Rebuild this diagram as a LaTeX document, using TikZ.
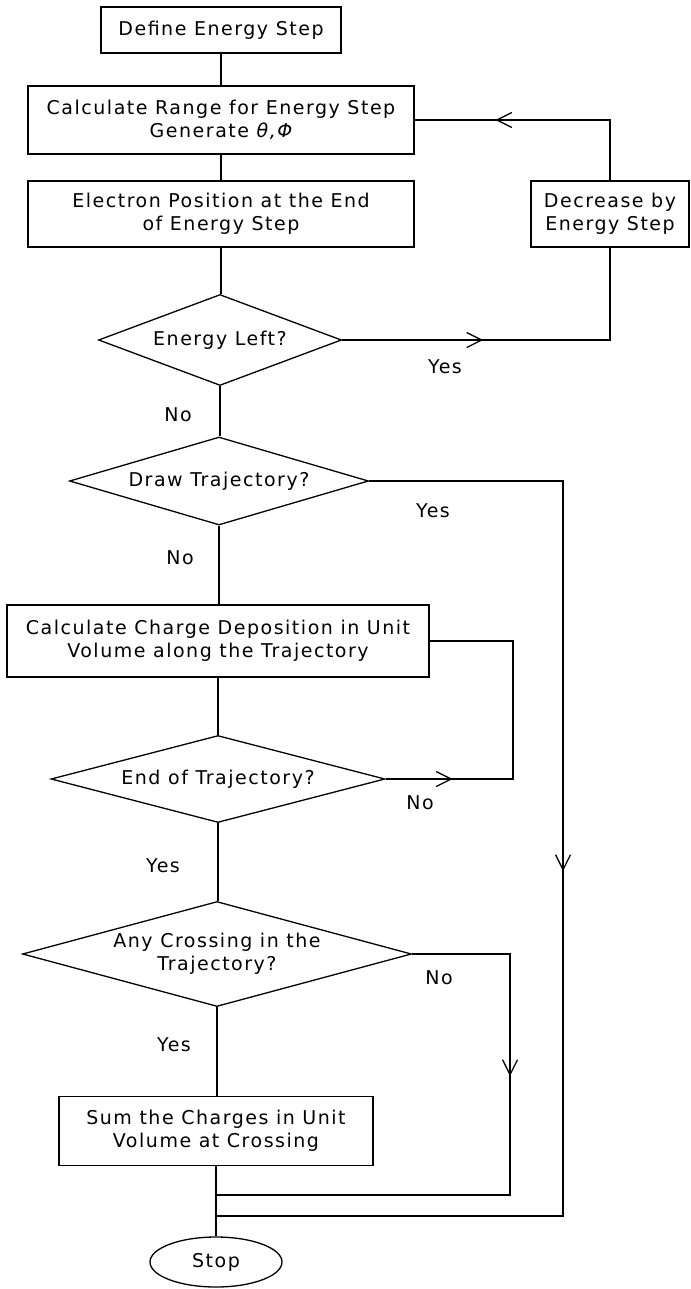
\documentclass[tikz,border=0pt]{standalone}
\usepackage{fontspec}
\setmainfont{DejaVu Sans}[LetterSpace=8]
\usetikzlibrary{shapes.geometric,arrows.meta,decorations.markings}
\tikzset{
  every node/.style={font=\fontsize{19}{23}\selectfont},
  conn/.style={line width=1.3pt},
  box/.style={draw, line width=1.3pt, rectangle, align=center, inner sep=0pt},
  dia/.style={draw, line width=1.3pt, diamond, align=center, inner sep=0pt},
  term/.style={draw, line width=1.3pt, ellipse, inner sep=0pt},
  lbl/.style={inner sep=0pt},
  arrowat/.style={postaction={decorate}, decoration={markings,
      mark=at position #1 with {\arrow{Straight Barb[length=15pt,width=15pt,line width=1.3pt]}}}}
}
\begin{document}
\begin{tikzpicture}[x=1pt,y=-1pt]
\useasboundingbox (0,0) rectangle (690,1289);
% nodes
\node[box, minimum width=240pt, minimum height=46pt] (b1) at (221,30) {Define Energy Step};
\node[box, minimum width=386pt, minimum height=68pt] (b2) at (221,120) {Calculate Range for Energy Step\\Generate {\itshape θ,Φ}};
\node[box, minimum width=386pt, minimum height=66pt] (b3) at (221,214) {Electron Position at the End\\of Energy Step};
\node[box, minimum width=158pt, minimum height=66pt] (dec) at (610,214) {Decrease by\\Energy Step};
\node[dia, minimum width=243pt, minimum height=91pt, aspect=2.67] (d1) at (220,340) {Energy Left?};
\node[dia, minimum width=299pt, minimum height=88pt, aspect=3.4] (d2) at (219,481) {Draw Trajectory?};
\node[box, minimum width=422pt, minimum height=72pt] (b4) at (218,641) {Calculate Charge Deposition in Unit\\Volume along the Trajectory};
\node[dia, minimum width=334pt, minimum height=87pt, aspect=3.84] (d3) at (218,779) {End of Trajectory?};
\node[dia, minimum width=389pt, minimum height=105pt, aspect=3.7] (d4) at (217,954) {Any Crossing in the\\Trajectory?};
\node[box, minimum width=314pt, minimum height=69pt] (b5) at (216,1131) {Sum the Charges in Unit\\Volume at Crossing};
\node[term, minimum width=132pt, minimum height=50pt] (stop) at (216,1262) {Stop};
% helper coordinates
\coordinate (j1) at (216,1195);
\coordinate (j2) at (216,1216);
\coordinate (c2) at (563,1216);
\coordinate (c3) at (513,641);
\coordinate (c4) at (510,1195);
% labels
\node[lbl] (y1) at (445,367) {Yes};
\node[lbl] (n1) at (178,415) {No};
\node[lbl] (y2) at (433,511) {Yes};
\node[lbl] (n2) at (180,558) {No};
\node[lbl] (n3) at (420,803) {No};
\node[lbl] (y3) at (163,866) {Yes};
\node[lbl] (n4) at (439,978) {No};
\node[lbl] (y4) at (174,1045) {Yes};
% connectors
\draw[conn] (b1) -- (b2);
\draw[conn] (b2) -- (b3);
\draw[conn] (b3.south) -- (b3.south |- d1.north);
\draw[conn] (d1.south) -- (d1.south |- d2.north);
\draw[conn] (d2.south) -- (d2.south |- b4.north);
\draw[conn] (b4.south) -- (b4.south |- d3.north);
\draw[conn] (d3.south) -- (d3.south |- d4.north);
\draw[conn] (d4.south) -- (d4.south |- b5.north);
\draw[conn] (b5.south) -- (b5.south |- stop.north);
\draw[conn, arrowat=141pt] (d1.east) -| (dec.south);
\draw[conn, arrowat=175pt] (dec.north) |- (b2.east);
\draw[conn, arrowat=584pt] (d2.east) -| (c2) -- (j2);
\draw[conn, arrowat=67pt] (d3.east) -| (c3) -- (b4.east);
\draw[conn, arrowat=220pt] (d4.east) -| (c4) -- (j1);
\end{tikzpicture}
\end{document}
